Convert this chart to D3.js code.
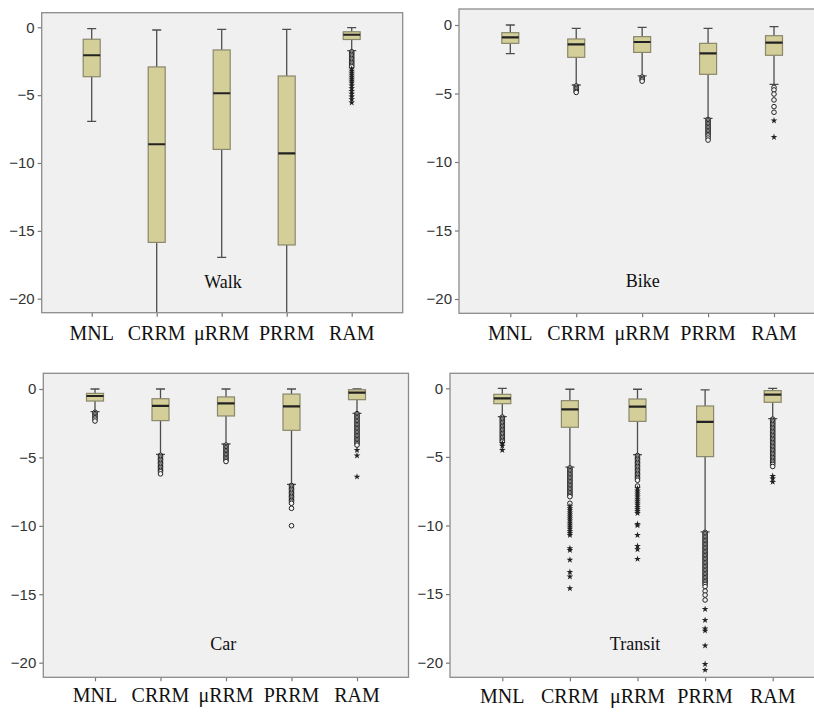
<!DOCTYPE html>
<html>
<head>
<meta charset="utf-8">
<script src="https://cdn.jsdelivr.net/npm/d3@7"></script>
<style>
    body { margin: 0; background: #fff; }
    svg { display: block; }
</style>
</head>
<body>
<div id="chart"></div>
<script>

// categories and ticks
let models = ["MNL", "CRRM", "μRRM", "PRRM", "RAM"];
let yTicks = [0, -5, -10, -15, -20];

// box stats per model: [lower whisker, Q1, median, Q3, upper whisker]
let walkStats = [
    [-6.93, -3.64, -2.06, -0.88, -0.10],
    [-22.0, -15.85, -8.62, -2.92, -0.20],
    [-16.95, -9.00, -4.86, -1.67, -0.15],
    [-22.0, -16.04, -9.29, -3.59, -0.15],
    [-1.72, -0.90, -0.55, -0.33, -0.02]
];
let bikeStats = [
    [-2.09, -1.34, -0.90, -0.56, 0],
    [-4.38, -2.36, -1.41, -1.02, -0.24],
    [-3.72, -2.00, -1.24, -0.85, -0.17],
    [-6.81, -3.60, -2.07, -1.34, -0.24],
    [-4.33, -2.21, -1.29, -0.78, -0.12]
];
let carStats = [
    [-1.66, -0.88, -0.51, -0.32, 0],
    [-4.77, -2.31, -1.24, -0.71, 0],
    [-4.02, -1.97, -1.05, -0.58, 0],
    [-6.97, -3.02, -1.27, -0.37, 0],
    [-1.78, -0.78, -0.27, -0.05, 0]
];
let transitStats = [
    [-2.07, -1.12, -0.73, -0.44, 0],
    [-5.74, -2.84, -1.53, -0.90, -0.07],
    [-4.84, -2.41, -1.34, -0.78, -0.07],
    [-10.47, -4.98, -2.45, -1.29, -0.12],
    [-2.21, -1.02, -0.46, -0.17, 0]
];

// outliers (circles) and extremes (stars) per model
let walkCircles = [[], [], [], [],
    [-1.8, -1.9, -2.0, -2.1, -2.2, -2.3, -2.4, -2.5, -2.6, -2.7, -2.8, -2.9]];
let walkStars = [[], [], [], [],
    [-3.05, -3.2, -3.35, -3.5, -3.65, -3.8, -3.95, -4.1, -4.3, -4.5, -4.7, -4.9, -5.1, -5.3, -5.55]];

let bikeCircles = [
    [],
    [-4.45, -4.55, -4.65, -4.75, -4.85, -4.92],
    [-3.8, -3.9, -4.0, -4.1],
    [-6.9, -7.0, -7.1, -7.2, -7.3, -7.4, -7.5, -7.6, -7.7, -7.8, -7.9, -8.0, -8.1, -8.25, -8.4],
    [-4.55, -4.74, -5.04, -5.47, -5.96, -6.37]
];
let bikeStars = [[], [], [], [], [-6.98, -8.18]];

let carCircles = [
    [-1.7, -1.8, -1.9, -2.0, -2.1, -2.2, -2.34],
    [-4.85, -4.95, -5.05, -5.15, -5.25, -5.35, -5.45, -5.55, -5.65, -5.75, -5.85, -5.95, -6.05, -6.2],
    [-4.1, -4.2, -4.3, -4.4, -4.5, -4.6, -4.7, -4.8, -4.9, -5.0, -5.1, -5.2, -5.3],
    [-7.05, -7.15, -7.25, -7.35, -7.45, -7.55, -7.65, -7.75, -7.85, -7.95, -8.05, -8.15, -8.25, -8.35, -8.72, -9.99],
    [-1.8, -1.9, -2.0, -2.1, -2.2, -2.3, -2.4, -2.5, -2.6, -2.7, -2.8, -2.9, -3.0, -3.1, -3.2, -3.3,
     -3.4, -3.5, -3.6, -3.7, -3.8, -3.9, -4.0, -4.1]
];
let carStars = [[], [], [], [], [-4.46, -4.87, -6.41]];

let transitCircles = [
    [-2.1, -2.2, -2.3, -2.4, -2.5, -2.6, -2.7, -2.8, -2.9, -3.0, -3.1, -3.2, -3.3, -3.4, -3.5,
     -3.6, -3.7, -3.8, -3.9],
    [-5.8, -5.9, -6.0, -6.1, -6.2, -6.3, -6.4, -6.5, -6.6, -6.7, -6.8, -6.9, -7.0, -7.1, -7.2,
     -7.3, -7.4, -7.5, -7.6, -7.7, -7.8, -7.9, -8.38],
    [-4.9, -5.0, -5.1, -5.2, -5.3, -5.4, -5.5, -5.6, -5.7, -5.8, -5.9, -6.0, -6.1, -6.2, -6.3,
     -6.4, -6.5, -6.6, -6.7, -7.12],
    [-10.5, -10.6, -10.7, -10.8, -10.9, -11.0, -11.1, -11.2, -11.3, -11.4, -11.5, -11.6, -11.7,
     -11.8, -11.9, -12.0, -12.1, -12.2, -12.3, -12.4, -12.5, -12.6, -12.7, -12.8, -12.9, -13.0,
     -13.1, -13.2, -13.3, -13.4, -13.5, -13.6, -13.7, -13.8, -13.9, -14.0, -14.1, -14.2, -14.3,
     -14.45, -14.78, -15.07, -15.43],
    [-2.25, -2.35, -2.45, -2.55, -2.65, -2.75, -2.85, -2.95, -3.05, -3.15, -3.25, -3.35, -3.45,
     -3.55, -3.65, -3.75, -3.85, -3.95, -4.05, -4.15, -4.25, -4.35, -4.45, -4.55, -4.65, -4.75,
     -4.85, -4.95, -5.05, -5.15, -5.25, -5.35, -5.45, -5.55, -5.7]
];
let transitStars = [
    [-4.0, -4.2, -4.5],
    [-8.6, -8.75, -8.9, -9.05, -9.2, -9.35, -9.5, -9.65, -9.8, -9.95, -10.1, -10.25, -10.4, -10.55,
     -10.7, -11.66, -11.8, -12.5, -13.4, -13.73, -14.58],
    [-7.3, -7.45, -7.6, -7.75, -7.9, -8.05, -8.2, -8.35, -8.5, -8.65, -8.8, -8.95, -9.1,
     -9.9, -10.0, -10.7, -11.5, -11.74, -12.44],
    [-16.1, -16.9, -17.52, -17.67, -18.76, -20.1, -20.53],
    [-6.39, -6.58, -6.83]
];

// panel layout (pixels on the page)
let panels = [
    {id: "walk", title: "Walk", stats: walkStats, circles: walkCircles, stars: walkStars,
        frame: [41.7, 12.7, 402.7, 312.7], yRange: [27.3, 298.7], xRange: [91.7, 351.7],
        labelY: 340, titleX: 223, titleY: 288},
    {id: "bike", title: "Bike", stats: bikeStats, circles: bikeCircles, stars: bikeStars,
        frame: [459, 9, 830, 313.3], yRange: [25, 299], xRange: [510.3, 774],
        labelY: 339.5, titleX: 642.7, titleY: 287.3},
    {id: "car", title: "Car", stats: carStats, circles: carCircles, stars: carStars,
        frame: [43.3, 373.3, 408.5, 677.3], yRange: [389, 662.7], xRange: [95, 357],
        labelY: 702.3, titleX: 223.3, titleY: 650},
    {id: "transit", title: "Transit", stats: transitStats, circles: transitCircles, stars: transitStars,
        frame: [450, 373.3, 830, 677.3], yRange: [388.3, 662.7], xRange: [502.3, 772.7],
        labelY: 703.3, titleX: 635, titleY: 650}
];

let svg = d3.select("#chart").append("svg")
    .attr("width", 814)
    .attr("height", 713);

let boxWidth = 17;
let capWidth = 9;

panels.forEach(p => drawPanel(p));

function drawPanel(p) {
    let [fx0, fy0, fx1, fy1] = p.frame;

    let y = d3.scaleLinear().domain([0, -20]).range(p.yRange);
    let x = d3.scalePoint().domain(models).range(p.xRange);

    let g = svg.append("g").attr("class", "panel " + p.id);

    g.append("clipPath")
        .attr("id", "clip-" + p.id)
        .append("rect")
        .attr("x", fx0).attr("y", fy0)
        .attr("width", fx1 - fx0).attr("height", fy1 - fy0);

    // plot background
    g.append("rect")
        .attr("x", fx0).attr("y", fy0)
        .attr("width", fx1 - fx0).attr("height", fy1 - fy0)
        .attr("fill", "#f0f0f0");

    // y axis
    let yAxis = d3.axisLeft(y).tickValues(yTicks).tickSize(4).tickPadding(3);
    let yg = g.append("g")
        .attr("transform", `translate(${fx0},0)`)
        .call(yAxis);
    yg.select(".domain").remove();
    yg.selectAll(".tick line").attr("stroke", "#777").attr("stroke-width", 1.2);
    yg.selectAll(".tick text")
        .attr("fill", "#333")
        .style("font-family", "'Liberation Sans', Arial, sans-serif")
        .style("font-size", "15px");

    // x axis
    let xAxis = d3.axisBottom(x).tickSize(4).tickFormat("");
    let xg = g.append("g")
        .attr("transform", `translate(0,${fy1})`)
        .call(xAxis);
    xg.select(".domain").remove();
    xg.selectAll(".tick line").attr("stroke", "#777").attr("stroke-width", 1.2);

    g.selectAll(".xlabel")
        .data(models)
        .join("text")
        .attr("class", "xlabel")
        .attr("x", d => x(d))
        .attr("y", p.labelY)
        .attr("text-anchor", "middle")
        .style("font-family", "'Liberation Serif', 'Times New Roman', serif")
        .style("font-size", "20px")
        .attr("fill", "#111")
        .text(d => d);

    let marks = g.append("g").attr("clip-path", `url(#clip-${p.id})`);

    let boxes = marks.selectAll(".box")
        .data(p.stats.map((s, i) => ({model: models[i], s: s, circles: p.circles[i], stars: p.stars[i]})))
        .join("g")
        .attr("class", "box");

    // whisker stems
    boxes.append("line")
        .attr("x1", d => x(d.model)).attr("x2", d => x(d.model))
        .attr("y1", d => y(d.s[4])).attr("y2", d => y(d.s[0]))
        .attr("stroke", "#4d4d4d").attr("stroke-width", 1.3);

    // caps
    boxes.append("line")
        .attr("x1", d => x(d.model) - capWidth / 2).attr("x2", d => x(d.model) + capWidth / 2)
        .attr("y1", d => y(d.s[4])).attr("y2", d => y(d.s[4]))
        .attr("stroke", "#4d4d4d").attr("stroke-width", 1.3);
    boxes.append("line")
        .attr("x1", d => x(d.model) - capWidth / 2).attr("x2", d => x(d.model) + capWidth / 2)
        .attr("y1", d => y(d.s[0])).attr("y2", d => y(d.s[0]))
        .attr("stroke", "#4d4d4d").attr("stroke-width", 1.3);

    // box
    boxes.append("rect")
        .attr("x", d => x(d.model) - boxWidth / 2)
        .attr("width", boxWidth)
        .attr("y", d => y(d.s[3]))
        .attr("height", d => y(d.s[1]) - y(d.s[3]))
        .attr("fill", "#d4cf98")
        .attr("stroke", "#8a876c")
        .attr("stroke-width", 1.2);

    // median
    boxes.append("line")
        .attr("x1", d => x(d.model) - boxWidth / 2).attr("x2", d => x(d.model) + boxWidth / 2)
        .attr("y1", d => y(d.s[2])).attr("y2", d => y(d.s[2]))
        .attr("stroke", "#222").attr("stroke-width", 2.2);

    // outlier circles
    boxes.selectAll(".out")
        .data(d => d.circles.map(v => ({model: d.model, v: v})))
        .join("circle")
        .attr("class", "out")
        .attr("cx", d => x(d.model))
        .attr("cy", d => y(d.v))
        .attr("r", 2.3)
        .attr("fill", "#f4f4f4")
        .attr("stroke", "#222")
        .attr("stroke-width", 1);

    // extreme stars
    let star = d3.symbol().type(d3.symbolStar).size(14);
    boxes.selectAll(".ext")
        .data(d => d.stars.map(v => ({model: d.model, v: v})))
        .join("path")
        .attr("class", "ext")
        .attr("d", star)
        .attr("transform", d => `translate(${x(d.model)},${y(d.v)})`)
        .attr("fill", "#222");

    // frame
    g.append("rect")
        .attr("x", fx0).attr("y", fy0)
        .attr("width", fx1 - fx0).attr("height", fy1 - fy0)
        .attr("fill", "none")
        .attr("stroke", "#8c8c8c")
        .attr("stroke-width", 1.3);

    // mode title
    g.append("text")
        .attr("x", p.titleX)
        .attr("y", p.titleY)
        .attr("text-anchor", "middle")
        .style("font-family", "'Liberation Serif', 'Times New Roman', serif")
        .style("font-size", "18px")
        .attr("fill", "#111")
        .text(p.title);
}
</script>
</body>
</html>
